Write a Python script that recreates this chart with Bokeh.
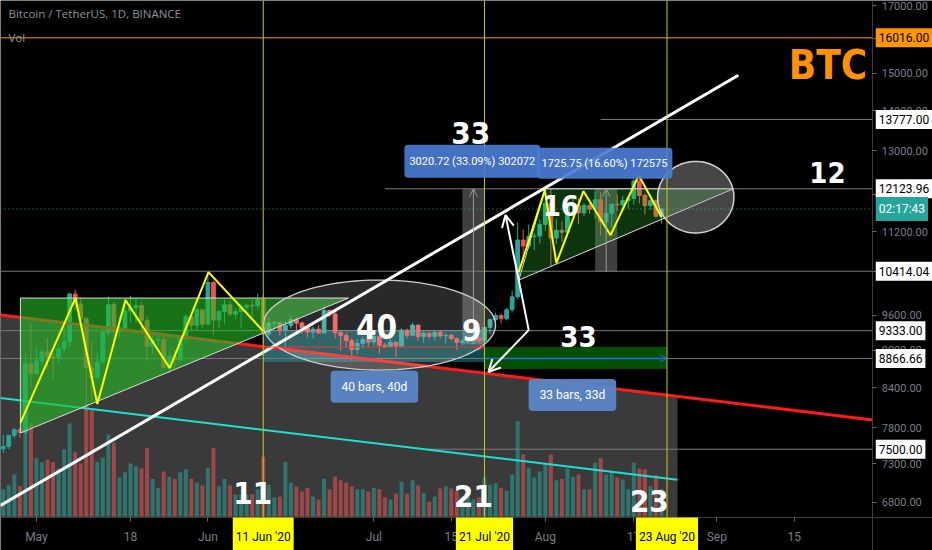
import numpy as np
import pandas as pd
from bokeh.plotting import figure
from bokeh.models import (Range1d, LinearScale, FixedTicker, PrintfTickFormatter, Label,
                          Arrow, OpenHead, ColumnDataSource, LogAxis, LinearAxis)
from bokeh.embed import file_html
from bokeh.resources import INLINE

REF = pd.Timestamp("2020-05-01")


def D(s, frac=0.0):
    return (pd.Timestamp(s) - REF).days + frac


# ---------------- data (BTC/USDT daily, Apr 24 - Aug 22 2020) ----------------
dates = pd.date_range("2020-04-24", "2020-08-22", freq="D")

opens = [7491, 7505, 7538, 7693, 7774, 7738, 8778,
         8620, 8826, 8973, 8894, 8884, 9031, 9150, 9986, 9800, 9539, 8722, 8561, 8810, 9309, 9791,
         9316, 9381, 9680, 9733, 9775, 9511, 9068, 9170, 9179, 8720, 8900, 8842, 9204, 9575, 9427, 9697,
         9448, 10200, 9518, 9666, 9789, 9621, 9666, 9746, 9782, 9772, 9885, 9281, 9466, 9473, 9343,
         9426, 9525, 9465, 9386, 9310, 9358, 9294, 9686, 9624, 9296, 9249, 9163, 9013, 9117, 9185,
         9138, 9232, 9087, 9058, 9135, 9070, 9342, 9253, 9428, 9232, 9288, 9235, 9303, 9243, 9255,
         9197, 9133, 9154, 9171, 9209, 9162, 9391, 9522, 9600, 9540, 9700, 9934, 11030, 10910, 11100, 11112,
         11352, 11802, 11072, 11230, 11191, 11744, 11762, 11595, 11754, 11676, 11879, 11410, 11585,
         11784, 11768, 11865, 11911, 12300, 11977, 11755, 11860, 11525]
highs = [7599, 7700, 7700, 7800, 7800, 8956, 9460,
         9060, 9012, 9200, 8950, 9100, 9400, 10000, 10067, 9918, 9574, 9168, 8978, 9398, 9939, 9845,
         9588, 9888, 9950, 9897, 9842, 9578, 9271, 9307, 9298, 8979, 9017, 9225, 9625, 9605, 9740, 9700,
         10380, 10228, 9690, 9881, 9854, 9735, 9802, 9800, 9877, 9992, 9964, 9557, 9494, 9480, 9500,
         9589, 9565, 9489, 9438, 9395, 9422, 9780, 9700, 9670, 9340, 9291, 9195, 9194, 9232, 9200,
         9292, 9268, 9125, 9190, 9145, 9375, 9365, 9470, 9440, 9317, 9299, 9343, 9343, 9279, 9275,
         9215, 9186, 9200, 9247, 9225, 9430, 9540, 9645, 9625, 9735, 10050, 11394, 11243, 11350, 11170, 11452,
         11861, 12124, 11474, 11414, 11787, 11900, 11915, 11808, 11806, 12067, 12050, 11618, 11792,
         12000, 11965, 11937, 12486, 12400, 12020, 11880, 11888, 11686]
lows = [7463, 7446, 7500, 7655, 7660, 7710, 8400,
        8620, 8760, 8700, 8531, 8780, 8940, 9038, 9705, 9520, 8117, 8200, 8533, 8793, 9256, 9130,
        9220, 9330, 9465, 9475, 9284, 8815, 8933, 9070, 8700, 8632, 8694, 8811, 9110, 9330, 9331, 9381,
        9421, 9266, 9365, 9450, 9581, 9531, 9372, 9633, 9570, 9690, 9113, 9232, 9351, 9245, 8975,
        9373, 9257, 9280, 9215, 9200, 9281, 9277, 9570, 9199, 9000, 9045, 8833, 8940, 9030, 9065,
        9088, 8940, 9040, 9053, 8893, 9055, 9200, 9230, 9160, 9125, 9190, 9160, 9200, 9113, 9160,
        9005, 9089, 9121, 9100, 9131, 9150, 9280, 9463, 9460, 9510, 9650, 9893, 10575, 10850, 10831, 10960,
        11220, 10518, 10950, 11000, 11093, 11583, 11356, 11522, 11570, 11471, 11125, 11150, 11280,
        11630, 11668, 11686, 11778, 11800, 11560, 11668, 11500, 11370]
closes = [7505, 7538, 7693, 7774, 7738, 8778, 8620,
          8826, 8973, 8894, 8884, 9031, 9150, 9986, 9800, 9539, 8722, 8561, 8810, 9309, 9791, 9316,
          9381, 9680, 9733, 9775, 9511, 9068, 9170, 9179, 8720, 8900, 8842, 9204, 9575, 9427, 9697, 9448,
          10200, 9518, 9666, 9789, 9621, 9666, 9746, 9782, 9772, 9885, 9281, 9466, 9473, 9343, 9426,
          9525, 9465, 9386, 9310, 9358, 9294, 9686, 9624, 9296, 9249, 9163, 9013, 9117, 9185, 9138,
          9232, 9087, 9058, 9135, 9070, 9342, 9253, 9428, 9232, 9288, 9235, 9303, 9243, 9255, 9197,
          9133, 9154, 9171, 9209, 9162, 9391, 9522, 9600, 9540, 9700, 9934, 11030, 10910, 11100, 11112, 11352,
          11802, 11072, 11230, 11191, 11744, 11762, 11595, 11754, 11676, 11879, 11410, 11585, 11784,
          11768, 11865, 11911, 12300, 11977, 11755, 11860, 11525, 11680]
volumes = [39, 37, 43, 57, 41, 127, 127,
           79, 74, 77, 74, 65, 91, 126, 87, 72, 152, 144, 74, 80, 111, 100,
           53, 60, 72, 68, 65, 93, 51, 39, 61, 54, 51, 60, 64, 51, 46, 42,
           66, 93, 41, 51, 42, 30, 30, 30, 30, 37, 81, 43, 26, 27, 74,
           46, 41, 34, 39, 27, 23, 51, 37, 54, 49, 46, 41, 37, 37, 34,
           39, 37, 26, 23, 31, 47, 31, 49, 42, 32, 20, 27, 38, 41, 38,
           34, 27, 27, 23, 26, 53, 43, 45, 39, 35, 57, 129, 84, 66, 53, 61,
           70, 84, 49, 51, 65, 54, 57, 37, 37, 73, 79, 57, 60,
           53, 50, 37, 73, 65, 64, 41, 56, 37]

tick_dates = ["2020-05-01", "2020-05-18", "2020-06-01", "2020-07-01", "2020-07-15",
              "2020-08-01", "2020-08-17", "2020-09-01", "2020-09-15"]
tick_labels = ["May", "18", "Jun", "Jul", "15", "Aug", "17", "Sep", "15"]
price_ticks = [6800, 7300, 7800, 8400, 9000, 9600, 10400, 11200, 12000, 13000, 14000, 15000, 16000, 17000]

# horizontal levels (price, start date)
ray_prices = [13777.00, 12123.96, 10414.04, 9333.00, 8866.66, 7500.00]
ray_starts = ["2020-08-11", "2020-07-03", "2020-04-20", "2020-04-20", "2020-04-20", "2020-07-11"]
orange_level = 16016.00
last_price = 11680

# ---------------- figure ----------------
UP = "#26a69a"
DOWN = "#ef5350"
X0, X1 = -6.5, 162.0       # whole canvas
XA = 151.2                 # price-scale position
Y0, Y1 = 6222, 17157       # whole canvas
YA = 6612                  # time-scale position

p = figure(width=932, height=550, x_range=Range1d(X0, X1), y_range=Range1d(Y0, Y1),
           y_axis_type="log", x_axis_location=None, y_axis_location=None, output_backend="svg",
           toolbar_location=None, background_fill_color="#000000", border_fill_color="#000000",
           min_border_left=0, min_border_top=0, min_border_right=0, min_border_bottom=0)
p.outline_line_color = None
p.grid.visible = False
p.extra_y_ranges = {"vol": Range1d(-46, 699)}
p.extra_y_scales = {"vol": LinearScale()}

ya = LogAxis(fixed_location=XA, ticker=FixedTicker(ticks=price_ticks),
             formatter=PrintfTickFormatter(format="%.2f"))
ya.major_label_text_color = "#7b7e87"
ya.major_label_text_font = "Roboto"
ya.major_label_text_font_size = "11px"
ya.axis_line_color = "#3c3c3c"
ya.major_tick_line_color = "#6a6a6a"
ya.major_tick_out = 4
ya.major_tick_in = 0
ya.minor_tick_line_color = None
p.add_layout(ya, "right")

tick_days = [D(s) for s in tick_dates]
xa = LinearAxis(fixed_location=YA, ticker=FixedTicker(ticks=tick_days))
xa.major_label_overrides = {d: l for d, l in zip(tick_days, tick_labels)}
xa.major_label_text_color = "#7b7e87"
xa.major_label_text_font = "Roboto"
xa.major_label_text_font_size = "12px"
xa.axis_line_color = "#3c3c3c"
xa.major_tick_line_color = "#6a6a6a"
xa.major_tick_out = 4
xa.major_tick_in = 0
xa.minor_tick_line_color = None
xa.major_label_standoff = 8
p.add_layout(xa, "below")

days = [(d - REF).days for d in dates]
cols = [UP if c >= o else DOWN for o, c in zip(opens, closes)]
src = ColumnDataSource(dict(x=days, o=opens, h=highs, l=lows, c=closes,
                            top=[max(o, c) for o, c in zip(opens, closes)],
                            bot=[min(o, c) for o, c in zip(opens, closes)],
                            col=cols, vol=volumes))

# channel lines
red_x, red_p = [X0, XA], [9608, 7916]
cyan_x, cyan_p = [X0, 115.9], [8242, 7088]
white_x, white_p = [X0, 126.9], [6761, 14946]


def on_line(xs, ps, x):
    t = (x - xs[0]) / (xs[1] - xs[0])
    return float(np.exp(np.log(ps[0]) + t * (np.log(ps[1]) - np.log(ps[0]))))


# gray channel fill below the red line
gx_end = 115.9
p.patch([X0, gx_end, gx_end, X0], [on_line(red_x, red_p, X0), on_line(red_x, red_p, gx_end), YA, YA],
        fill_color="#3a3a3a", line_color=None)

# date-range fills
p.quad(left=[D("2020-06-11")], right=[D("2020-07-21")], bottom=[8808], top=[9344],
       fill_color="#1aa0a8", fill_alpha=0.45, line_color=None)
p.quad(left=[D("2020-07-21")], right=[D("2020-08-23")], bottom=[8696], top=[9055],
       fill_color="#00c000", fill_alpha=0.42, line_color=None)
# price-range boxes
p.quad(left=[D("2020-07-17"), D("2020-08-10")], right=[D("2020-07-21"), D("2020-08-14")],
       bottom=[12123.96 - 3020.72, 12123.96 - 1725.75], top=[12123.96, 12123.96],
       fill_color="#9e9e9e", fill_alpha=0.4, line_color=None)

# volume
p.vbar(x="x", top="vol", bottom=0, width=0.72, fill_color="col", fill_alpha=0.55,
       line_color=None, y_range_name="vol", source=src)

# horizontal levels
p.segment(x0=[D(s) for s in ray_starts], y0=ray_prices, x1=[XA] * len(ray_prices), y1=ray_prices,
          line_color="#7a7a7a", line_width=1)
p.segment(x0=[X0], y0=[orange_level], x1=[XA], y1=[orange_level], line_color="#ff9800", line_width=1)
p.segment(x0=[X0], y0=[last_price], x1=[XA], y1=[last_price], line_color=UP, line_width=1,
          line_dash="1 3")

# candles
p.segment(x0="x", y0="h", x1="x", y1="l", line_color="col", line_width=1, source=src)
p.vbar(x="x", top="top", bottom="bot", width=0.68, fill_color="col", line_color="col", source=src)

# red / cyan channel lines
p.line(red_x, red_p, line_color="#ff1a1a", line_width=3)
p.line(cyan_x, cyan_p, line_color="#19e3d0", line_width=2)

# date-range arrows
p.add_layout(Arrow(end=OpenHead(size=7, line_color="#e03c3c", line_width=1),
                   x_start=D("2020-06-11"), y_start=9055, x_end=D("2020-07-21"), y_end=9055,
                   line_color="#e03c3c", line_width=1, level="glyph"))
p.add_layout(Arrow(end=OpenHead(size=7, line_color="#2962ff", line_width=1),
                   x_start=D("2020-07-21"), y_start=8866.66, x_end=D("2020-08-23"), y_end=8866.66,
                   line_color="#2962ff", line_width=1.5, level="glyph"))
# price-range arrows
for cx, lo in [(D("2020-07-19"), 12123.96 - 3020.72), (D("2020-08-12"), 12123.96 - 1725.75)]:
    p.add_layout(Arrow(end=OpenHead(size=8, line_color="#9a9a9a", line_width=1),
                       x_start=cx, y_start=lo, x_end=cx, y_end=12123.96,
                       line_color="#9a9a9a", line_width=1, level="glyph"))

# triangles
p.patch([-2.9, -2.9, 56.4], [7728, 9911, 9911], fill_color="#26b826", fill_alpha=0.62,
        line_color="#dcdcdc", line_width=1)
p.patch([87.2, 92.0, 126.0], [10245, 12124, 12124], fill_color="#33cc33", fill_alpha=0.26,
        line_color="#dcdcdc", line_width=1)

# ellipses
t = np.linspace(0, 2 * np.pi, 160)


def ellipse(cx, cp, rd, rl):
    return list(cx + rd * np.cos(t)), list(np.exp(np.log(cp) + rl * np.sin(t)))


ex, ey = ellipse(62.0, 9430, 21.0, 0.083)
p.patch(ex, ey, fill_color="#ffffff", fill_alpha=0.16, line_color="#cfcfcf", line_width=1.3)
ex, ey = ellipse(119.2, 11937, 6.9, 0.066)
p.patch(ex, ey, fill_color="#a8a8a8", fill_alpha=0.42, line_color="#d6d6d6", line_width=1.5)

# zigzags
p.line([-2.9, 7.05, 11.0, 16.1, 24.1, 31.1, 41.0], [7872, 9911, 8151, 9874, 8711, 10396, 9325],
       line_color="#ffff00", line_width=2)
p.line([87.2, 91.9, 94.0, 98.9, 103.8, 108.9, 113.0], [10396, 12093, 10570, 12070, 11130, 12431, 11507],
       line_color="#ffff00", line_width=2)

# white trend line and arrows
p.line(white_x, white_p, line_color="#ffffff", line_width=3)
p.add_layout(Arrow(end=OpenHead(size=12, line_color="white", line_width=2),
                   x_start=87.3, y_start=10189, x_end=84.8, y_end=11549,
                   line_color="white", line_width=2, level="glyph"))
p.line([87.3, 89.0], [10189, 9342], line_color="white", line_width=2)
p.add_layout(Arrow(end=OpenHead(size=12, line_color="white", line_width=2),
                   x_start=89.0, y_start=9342, x_end=81.7, y_end=8648,
                   line_color="white", line_width=2, level="glyph"))

# vertical date lines
vdates = ["2020-06-11", "2020-07-21", "2020-08-23"]
p.segment(x0=[D(s) for s in vdates], y0=[YA] * 3, x1=[D(s) for s in vdates], y1=[Y1] * 3,
          line_color="#c9c91e", line_width=1)

# ---------------- texts ----------------
BIG = "'DejaVu Sans Condensed', sans-serif"


def big(x, y, txt, size="30px", color="white"):
    p.add_layout(Label(x=x, y=y, text=txt, text_align="center", text_baseline="middle",
                       text_color=color, text_font=BIG, text_font_style="bold",
                       text_font_size=size))


big(143.1, 15226, "BTC", "40px", "#ff9100")
big(78.5, 13429, "33", "31px")
big(143.0, 12500, "12", "29px")
big(94.8, 11763, "16", "29px")
big(61.5, 9412, "40", "33px")
big(78.7, 9344, "9", "31px")
big(98.0, 9240, "33", "29px")
big(39.1, 6912, "11", "31px")
big(79.0, 6874, "21", "31px")
big(110.8, 6823, "23", "31px")


def tag(x, y, txt, bg, size, pad, alpha=0.92):
    p.add_layout(Label(x=x, y=y, text=txt, text_align="center", text_baseline="middle",
                       text_color="white", text_font="Roboto", text_font_size=size,
                       background_fill_color=bg, background_fill_alpha=alpha,
                       padding=pad, border_radius=4))


tag(78.8, 12757, "3020.72 (33.09%) 302072", "#4a7bd3", "11px", (5, 10))
tag(102.7, 12710, "1725.75 (16.60%) 172575", "#4a7bd3", "11px", (5, 9))
tag(61.1, 8414, "40 bars, 40d", "#5b86c8", "12px", (11, 9), 0.95)
tag(96.9, 8290, "33 bars, 33d", "#5b86c8", "12px", (11, 9), 0.95)

# header
p.add_layout(Label(x=X0, y=Y1, x_offset=8, y_offset=-5, text="Bitcoin / TetherUS, 1D, BINANCE",
                   text_baseline="top", text_color="#8f929b", text_font="Open Sans",
                   text_font_size="11.5px"))
p.add_layout(Label(x=X0, y=Y1, x_offset=8, y_offset=-29, text="Vol",
                   text_baseline="top", text_color="#8f929b", text_font="Open Sans",
                   text_font_size="11.5px"))

# right-axis price tags
price_tags = [(16016.00, "16016.00", "#ff9800", "black"),
              (13777.00, "13777.00", "#ffffff", "black"),
              (12123.96, "12123.96", "#ffffff", "black"),
              (last_price, "02:17:43", UP, "white"),
              (10414.04, "10414.04", "#ffffff", "black"),
              (9333.00, "9333.00", "#ffffff", "black"),
              (8866.66, "8866.66", "#ffffff", "black"),
              (7500.00, "7500.00", "#ffffff", "black")]
for pr, txt, bg, fg in price_tags:
    p.add_layout(Label(x=XA, y=pr, x_offset=3, text=txt, text_align="left", text_baseline="middle",
                       text_color=fg, text_font="Roboto", text_font_size="12px",
                       background_fill_color=bg, padding=(3, 5)))

# bottom date tags
for s, txt in [("2020-06-11", "11 Jun '20"), ("2020-07-21", "21 Jul '20"), ("2020-08-23", "23 Aug '20")]:
    p.add_layout(Label(x=D(s), y=YA, y_offset=0, text=txt, text_align="center", text_baseline="top",
                       text_color="black", text_font="Roboto", text_font_size="12px",
                       background_fill_color="#ffff00", padding=(3, 12)))

open("out.html", "w").write(file_html(p, INLINE))
